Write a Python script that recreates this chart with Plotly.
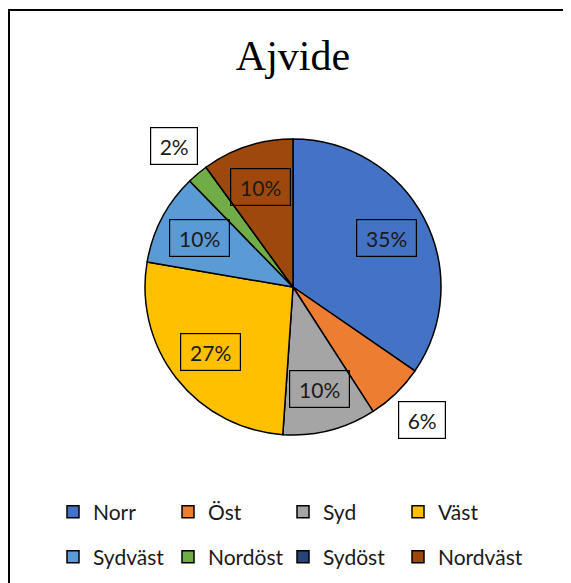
import math
import plotly.graph_objects as go

title = "Ajvide"
labels = ["Norr", "Öst", "Syd", "Väst", "Sydväst", "Nordöst", "Sydöst", "Nordväst"]
values = [34.6, 6.3, 10.2, 26.6, 10.0, 2.3, 0.0, 10.0]
colors = ["#4472C4", "#ED7D31", "#A5A5A5", "#FFC000",
          "#5B9BD5", "#70AD47", "#264478", "#9E480E"]

# page pixels; the html body has an 8px margin, so the figure is a bit smaller
OFF = 8
W, H = 571 - OFF, 583 - OFF
cx, cy, R = 293, 287, 148


def fx(px):
    return (px - OFF) / W


def fy(py):
    return 1 - (py - OFF) / H


fig = go.Figure()
fig.add_trace(go.Pie(
    labels=labels, values=values, sort=False, direction="clockwise",
    rotation=0, textinfo="none", showlegend=False, hoverinfo="label+percent",
    marker=dict(colors=colors, line=dict(color="black", width=1.5)),
    domain=dict(x=[fx(cx - R), fx(cx + R)], y=[fy(cy + R), fy(cy - R)]),
))

# legend: one small legend per entry, laid out in a 4x2 grid
legends = {}
for i, (lab, col) in enumerate(zip(labels, colors)):
    key = "legend" if i == 0 else f"legend{i + 1}"
    fig.add_trace(go.Scatter(
        x=[None], y=[None], mode="markers", name=lab,
        marker=dict(symbol="square", size=12, color=col, line=dict(color="black", width=1.5)),
        legend=key,
    ))
    legends[key] = dict(
        orientation="h", xanchor="left", yanchor="middle",
        x=fx(53 + 115 * (i % 4)), y=fy(512 + 45 * (i // 4)), itemwidth=30,
        font=dict(family="Lato", size=21, color="#1a1a1a"), bgcolor="rgba(0,0,0,0)",
    )

# boxed percentage labels
total = sum(values)
cum = 0
annotations = []
for v, col in zip(values, colors):
    if v == 0:
        continue
    mid = (cum + v / 2) / total * 2 * math.pi
    cum += v
    pct = v / total
    outside = pct < 0.07
    r = R * (1.25 if outside else 0.71)
    px = cx + r * math.sin(mid)
    py = cy - r * math.cos(mid)
    txt = f"{round(pct * 100)}%"
    annotations.append(dict(
        x=fx(px), y=fy(py), xref="paper", yref="paper", xanchor="center", yanchor="middle",
        text=txt, showarrow=False, font=dict(family="Lato", size=21, color="#1a1a1a"),
        bordercolor="black", borderwidth=1.2, borderpad=5,
        width=36 if len(txt) == 2 else 49, height=26,
        bgcolor="white" if outside else "rgba(0,0,0,0)",
    ))

fig.update_layout(
    width=W, height=H, margin=dict(l=0, r=0, t=0, b=0),
    paper_bgcolor="white", plot_bgcolor="white",
    title=dict(text=title, x=fx(cx), xanchor="center", y=fy(55), yanchor="middle",
               yref="container", font=dict(family="Liberation Serif", size=42, color="black")),
    xaxis=dict(visible=False), yaxis=dict(visible=False),
    annotations=annotations,
    shapes=[dict(type="rect", xref="paper", yref="paper", x0=fx(9), x1=1.05,
                 y0=-0.05, y1=fy(10), line=dict(color="black", width=2))],
    **legends,
)

fig.write_html("out.html")
